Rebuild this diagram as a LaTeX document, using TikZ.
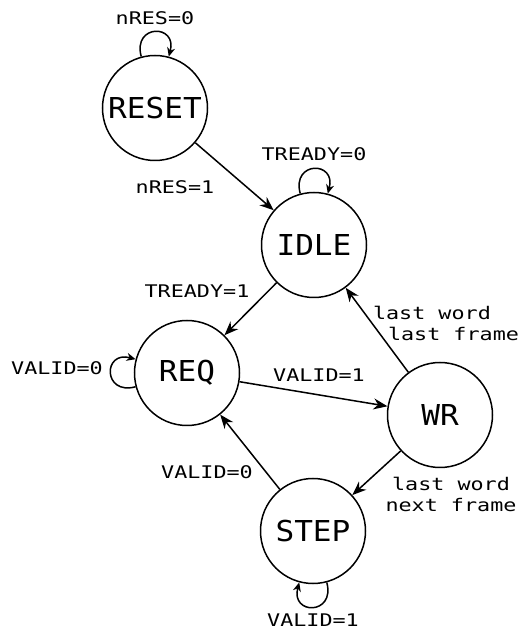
\documentclass[tikz,border=0pt]{standalone}
\usepackage{fontspec}
\newfontfamily\statefont[FakeStretch=1.08]{DejaVu Sans Mono}
\newfontfamily\labelfont[FakeStretch=1.25]{DejaVu Sans Mono}
\usetikzlibrary{arrows.meta}
\begin{document}
\begin{tikzpicture}[x=1pt,y=1pt,
  stnode/.style={circle,draw,line width=1.5pt,minimum size=105pt,inner sep=0pt,
    font=\statefont\fontsize{28.8}{30}\selectfont},
  lbl/.style={inner sep=0pt,font=\labelfont\fontsize{17.4}{21}\selectfont},
  arr/.style={line width=1.5pt,-{Stealth[length=14pt,width=11pt]}},
  lp/.style={line width=1.5pt,-{Stealth[length=9pt,width=8pt]}}]
\useasboundingbox (0,0) rectangle (531,630);
% states
\node[stnode] (reset) at (155,522) {RESET};
\node[stnode] (idle)  at (314,385) {IDLE};
\node[stnode] (req)   at (187,257) {REQ};
\node[stnode] (wr)    at (440,215) {WR};
\node[stnode] (step)  at (313,99)  {STEP};
% transitions
\draw[arr] (reset) -- (idle);
\draw[arr] (idle) -- (req);
\draw[arr] (req) -- (wr);
\draw[arr] (wr) -- (idle);
\draw[arr] (wr) -- (step);
\draw[arr] (step) -- (req);
% loops
\draw[lp] (reset) to[loop above,looseness=1,min distance=34pt] (reset);
\draw[lp] (idle) to[loop above,looseness=1,min distance=34pt] (idle);
\draw[lp] (req) to[loop left,looseness=1,min distance=34pt] (req);
\draw[lp] (step) to[loop below,looseness=1,min distance=34pt] (step);
% labels
\node[lbl] (lresetloop) at (155,612) {nRES=0};
\node[lbl] (lresetidle) at (175,443) {nRES=1};
\node[lbl] (lidleloop) at (314,476) {TREADY=0};
\node[lbl] (lidlereq) at (197,339) {TREADY=1};
\node[lbl] (lreqloop) at (57,262) {VALID=0};
\node[lbl] (lreqwr) at (319,255) {VALID=1};
\node[lbl,align=left] (lwridle) at (446,307) {last word\\\hspace*{15pt}last frame};
\node[lbl,align=center] (lwrstep) at (451,136) {last word\\next frame};
\node[lbl] (lstepreq) at (207,158) {VALID=0};
\node[lbl] (lsteploop) at (313,10) {VALID=1};
\end{tikzpicture}
\end{document}
